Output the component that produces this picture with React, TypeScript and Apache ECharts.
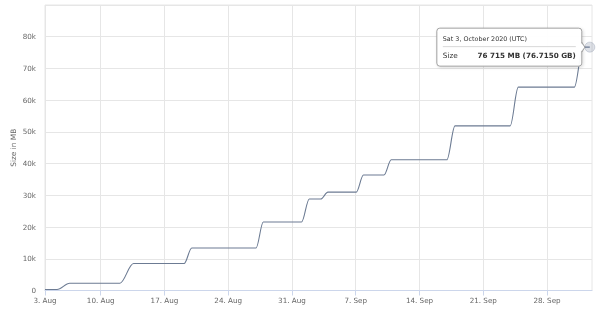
import React, { useEffect, useRef } from "react";
import * as echarts from "echarts";

// x = days since 3 Aug 2020 00:00
const stepDays = [0.88, 2.2, 3.6, 9.1, 10.6, 16.15, 17.0, 24.05, 24.85, 29.05, 29.9, 31.15, 31.95, 35.05, 35.85, 38.1, 38.9, 45.0, 45.9, 51.95, 52.85, 59.0, 59.95, 60.7];
const sizeMB = [300, 300, 2300, 2300, 8500, 8500, 13400, 13400, 21600, 21600, 28850, 28850, 31000, 31000, 36400, 36400, 41200, 41200, 51900, 51900, 64100, 64100, 76715, 76715];

const tickDays = [0.88, 7, 14, 21, 28, 35, 42, 49, 56];
const tickLabels = ["3. Aug", "10. Aug", "17. Aug", "24. Aug", "31. Aug", "7. Sep", "14. Sep", "21. Sep", "28. Sep"];
const axisMinDay = 0.88;
const axisMaxDay = 60.94;

const yMin = 0;
const yMax = 90000;
const yStep = 10000;

const yTitle = "Size in MB";
const seriesName = "Size";
const tooltipDate = "Sat 3, October 2020 (UTC)";

const FONT = "'DejaVu Sans', sans-serif";
const LINE_COLOR = "#6c7b93";

function formatSize(v: number): string {
  const thousands = Math.floor(v / 1000);
  const rest = String(Math.round(v % 1000)).padStart(3, "0");
  return `${thousands} ${rest} MB (${(v / 1000).toFixed(4)} GB)`;
}

export default function App() {
  const ref = useRef<HTMLDivElement>(null);

  useEffect(() => {
    const chart = echarts.init(ref.current!, null, { renderer: "svg" });
    const data = stepDays.map((d, i) => [d, sizeMB[i]]);

    chart.setOption({
      animation: false,
      grid: {
        left: 45,
        right: 8,
        top: 5,
        bottom: 18.5,
        show: true,
        borderColor: "#e6e6e6",
        borderWidth: 1,
        backgroundColor: "transparent",
        containLabel: false,
        outerBoundsMode: "none",
      },
      xAxis: {
        type: "value",
        min: axisMinDay,
        max: axisMaxDay,
        axisLine: { show: true, lineStyle: { color: "#ccd6eb", width: 1 } },
        axisTick: {
          show: true,
          length: 5,
          customValues: tickDays,
          lineStyle: { color: "#ccd6eb" },
        },
        splitLine: { show: true, lineStyle: { color: "#e6e6e6", width: 1 } },
        axisLabel: {
          customValues: tickDays,
          margin: 6,
          color: "#666666",
          fontFamily: FONT,
          fontSize: 7.2,
          formatter: (v: number) => {
            let best = 0;
            tickDays.forEach((t, i) => {
              if (Math.abs(t - v) < Math.abs(tickDays[best] - v)) best = i;
            });
            return tickLabels[best];
          },
        },
      },
      yAxis: {
        type: "value",
        min: yMin,
        max: yMax,
        interval: yStep,
        name: yTitle,
        nameLocation: "middle",
        nameGap: 28,
        nameMoveOverlap: false,
        nameTextStyle: { color: "#666666", fontFamily: FONT, fontSize: 7.4 },
        axisLine: { show: false },
        axisTick: { show: false },
        splitLine: { show: true, lineStyle: { color: "#e6e6e6", width: 1 } },
        axisLabel: {
          showMaxLabel: false,
          margin: 9,
          color: "#666666",
          fontFamily: FONT,
          fontSize: 7.2,
          verticalAlign: "middle",
          padding: [0, 0, 6, 0],
          formatter: (v: number) => (v === 0 ? "0" : `${v / 1000}k`),
        },
      },
      series: [
        {
          name: seriesName,
          type: "line",
          data,
          showSymbol: false,
          smooth: 0.35,
          smoothMonotone: "x",
          lineStyle: { color: LINE_COLOR, width: 1.1 },
          z: 2,
        },
      ],
    });

    const last = data.length - 1;
    const [px, py] = chart.convertToPixel({ gridIndex: 0 }, [stepDays[last], sizeMB[last]]) as number[];

    const boxRight = px - 8;
    const boxW = 145;
    const boxH = 38;
    const boxLeft = boxRight - boxW;
    const boxTop = py - 19;
    const tipX = px - 5;

    chart.setOption({
      graphic: [
        {
          type: "circle",
          shape: { cx: px, cy: py, r: 5 },
          style: { fill: "rgba(104,120,144,0.22)", stroke: "rgba(104,120,144,0.35)", lineWidth: 0.8 },
          z: 10,
        },
        {
          type: "rect",
          shape: { x: boxLeft, y: boxTop, width: boxW, height: boxH, r: 3 },
          style: {
            fill: "rgba(255,255,255,0.96)",
            stroke: "#a0a0a0",
            lineWidth: 1,
            shadowBlur: 3,
            shadowColor: "rgba(0,0,0,0.15)",
            shadowOffsetX: 1,
            shadowOffsetY: 1,
          },
          z: 20,
        },
        {
          type: "polygon",
          shape: { points: [[boxRight - 1.5, py - 5], [tipX, py], [boxRight - 1.5, py + 5]] },
          style: { fill: "#ffffff", stroke: null },
          z: 21,
        },
        {
          type: "polyline",
          shape: { points: [[boxRight, py - 5], [tipX, py], [boxRight, py + 5]] },
          style: { stroke: "#a0a0a0", lineWidth: 1, fill: null },
          z: 21,
        },
        {
          type: "line",
          shape: { x1: boxLeft + 6, y1: py - 0.5, x2: boxRight - 6, y2: py - 0.5 },
          style: { stroke: "#d8d8d8", lineWidth: 1 },
          z: 22,
        },
        {
          type: "text",
          x: boxLeft + 6,
          y: py - 8,
          style: {
            text: tooltipDate,
            fill: "#333333",
            font: `6.4px ${FONT}`,
            verticalAlign: "middle",
            align: "left",
          },
          z: 22,
        },
        {
          type: "text",
          x: boxLeft + 6,
          y: py + 8,
          style: {
            text: seriesName,
            fill: "#333333",
            font: `7.3px ${FONT}`,
            verticalAlign: "middle",
            align: "left",
          },
          z: 22,
        },
        {
          type: "text",
          x: boxRight - 6,
          y: py + 8,
          style: {
            text: formatSize(sizeMB[last]),
            fill: "#333333",
            font: `bold 7.2px ${FONT}`,
            verticalAlign: "middle",
            align: "right",
          },
          z: 22,
        },
      ],
    });

    return () => chart.dispose();
  }, []);

  return <div ref={ref} style={{ position: "fixed", left: 0, top: 0, width: 600, height: 309 }} />;
}
